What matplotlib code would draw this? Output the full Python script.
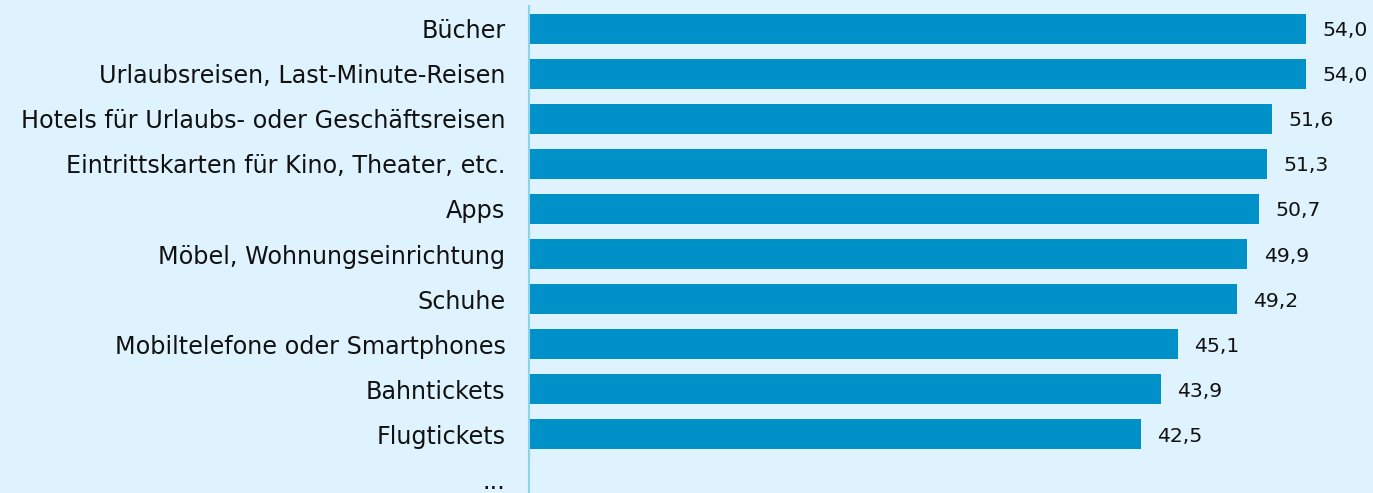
import matplotlib
matplotlib.use("Agg")
import matplotlib.pyplot as plt

# Data
categories = ["Bücher", "Urlaubsreisen, Last-Minute-Reisen",
              "Hotels für Urlaubs- oder Geschäftsreisen",
              "Eintrittskarten für Kino, Theater, etc.", "Apps",
              "Möbel, Wohnungseinrichtung", "Schuhe",
              "Mobiltelefone oder Smartphones", "Bahntickets", "Flugtickets", "..."]
values = [54.0, 54.0, 51.6, 51.3, 50.7, 49.9, 49.2, 45.1, 43.9, 42.5]

bg = "#dff3fe"
bar_color = "#0091c8"

W, H = 1373, 493
fig = plt.figure(figsize=(W / 100, H / 100), dpi=100, facecolor=bg)
# axes placed in pixel terms: left 529, top 6, right edge of figure, bottom
ax = fig.add_axes([529 / W, 0, 1 - 529 / W, (H - 6) / H])
ax.set_facecolor(bg)

ypos = list(range(len(categories)))
ax.barh(ypos[:len(values)], values, height=0.66, color=bar_color)

for y, v in zip(ypos, values):
    ax.text(v + 1.15, y, f"{v:.1f}".replace(".", ","), va="center_baseline", ha="left",
            fontsize=14.7, color="#111111")

ax.set_yticks(ypos)
ax.set_yticklabels(categories, fontsize=17.2, color="#111111")
ax.tick_params(axis="y", length=0, pad=17)
ax.set_xticks([])
ax.set_xlim(0, (W - 529) / 14.39)
ax.set_ylim(10.31, -0.51)

for s in ["top", "right", "bottom"]:
    ax.spines[s].set_visible(False)
ax.spines["left"].set_color("#8dd3ec")
ax.spines["left"].set_linewidth(1.5)

fig.savefig("out.png", dpi=100, facecolor=bg)
